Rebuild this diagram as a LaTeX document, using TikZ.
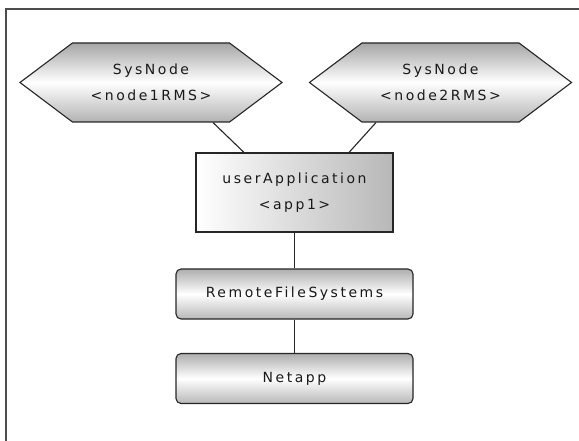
\documentclass[tikz,border=0pt]{standalone}
\usepackage{fontspec}
\newfontfamily\diafont[LetterSpace=18]{DejaVu Sans}
\usepackage{tikz}
\usetikzlibrary{shapes.symbols, calc}

\begin{document}
\begin{tikzpicture}[x=1pt, y=-1pt, line width=1.1pt,
    every node/.style={font=\diafont\fontsize{14}{26}\selectfont, text=black!90, align=center},
    sysnode/.style={signal, signal to=west and east, signal pointer angle=74, draw=black!85,
        minimum width=262pt, minimum height=79pt, inner sep=0pt,
        top color=black!35, bottom color=black!30, middle color=white},
    appbox/.style={rectangle, draw=black!85, minimum width=197pt, minimum height=79pt,
        left color=white, right color=black!28},
    resbox/.style={rectangle, rounded corners=5pt, draw=black!85, minimum width=237pt, minimum height=50pt,
        top color=black!32, bottom color=black!28, middle color=white}]
            \useasboundingbox (0, 0) rectangle (579, 441);
            \draw [black!70, line width=2pt] (5.5, 9.5) rectangle (620, 480);

            \node[sysnode] at (151, 82.5)   (sys1) {SysNode\\<node1RMS>};
            \node[sysnode] at (440.5, 82.5) (sys2) {SysNode\\<node2RMS>};
            \node[appbox] at (294.5, 192.5) (app) {userApplication\\<app1>};
            \node[resbox] at (294.5, 294)   (rfs) {RemoteFileSystems};
            \node[resbox] at (294.5, 378.5) (net) {Netapp};

            \draw [black!85] ([xshift=62pt]sys1.south) -- ([xshift=-50.5pt]app.north);
            \draw [black!85] ([xshift=-64.5pt]sys2.south) -- ([xshift=54.5pt]app.north);
            \draw [black!85] (app) -- (rfs);
            \draw [black!85] (rfs) -- (net);
        \end{tikzpicture}
\end{document}
